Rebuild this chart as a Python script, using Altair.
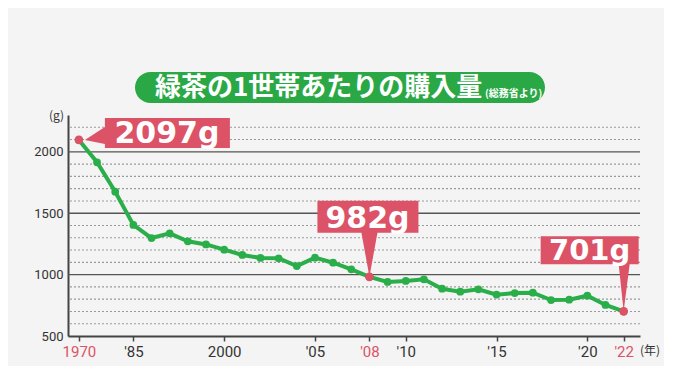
import altair as alt
import pandas as pd

# ---- data ----
years = [1970, 1975, 1980, 1985, 1990, 1995, 1998, 1999,
         2000, 2001, 2002, 2003, 2004, 2005, 2006, 2007, 2008, 2009,
         2010, 2011, 2012, 2013, 2014, 2015, 2016, 2017, 2018, 2019,
         2020, 2021, 2022]
grams = [2097, 1915, 1675, 1405, 1298, 1336, 1271, 1246,
         1203, 1160, 1136, 1133, 1070, 1138, 1097, 1043, 982, 940,
         948, 962, 885, 861, 880, 837, 850, 853, 793, 796,
         828, 753, 701]
tick_years = [1970, 1985, 2000, 2005, 2008, 2010, 2015, 2020, 2022]
full_label_years = [1970, 2000]
highlight_years = [1970, 2008, 2022]
callout_texts = ["2097g", "982g", "701g"]
y_label_values = [500, 1000, 1500, 2000]
grid_major = [1000, 1500, 2000]
grid_minor = [600, 700, 800, 900, 1100, 1200, 1300, 1400,
              1600, 1700, 1800, 1900, 2100, 2200]
title_main = "緑茶の1世帯あたりの購入量"
title_sub = "(総務省より)"
unit_y = "(g)"
unit_x = "(年)"

# ---- styles ----
GREEN = "#2aae4a"
RED = "#dc5266"
INK = "#333333"
W, H = 572, 221

df = pd.DataFrame({"year": years, "grams": grams})
df["i"] = range(len(df))

tick_idx = [years.index(y) for y in tick_years]
hl_idx = [years.index(y) for y in highlight_years]

def lab(y):
    return str(y) if y in full_label_years else "'" + str(y)[2:]

label_expr = "''"
for ix, yr in reversed(list(zip(tick_idx, tick_years))):
    label_expr = f'datum.value == {ix} ? "{lab(yr)}" : ({label_expr})'

xscale = alt.Scale(domain=[-0.6, 30.9], nice=False, zero=False)
yscale = alt.Scale(domain=[500, 2300], nice=False, zero=False)

x_axis = alt.Axis(
    values=tick_idx, labelExpr=label_expr, title=None, grid=False,
    labelColor=alt.condition(
        "indexof(" + str(hl_idx) + ", datum.value) >= 0",
        alt.value(RED), alt.value(INK)),
)
y_axis = alt.Axis(values=y_label_values, title=None, grid=False, ticks=False, format="d")

base = alt.Chart(df)

minor = alt.Chart(pd.DataFrame({"v": grid_minor})).mark_rule(
    color="#9a9a9a", strokeWidth=1.1, strokeDash=[2, 2]
).encode(y=alt.Y("v:Q", scale=yscale, axis=y_axis), x=alt.value(2), x2=alt.value(W))

major = alt.Chart(pd.DataFrame({"v": grid_major})).mark_rule(
    color="#555555", strokeWidth=1.4
).encode(y=alt.Y("v:Q", scale=yscale, axis=y_axis), x=alt.value(0), x2=alt.value(W))

line = base.mark_line(color=GREEN, strokeWidth=4).encode(
    x=alt.X("i:Q", scale=xscale, axis=x_axis),
    y=alt.Y("grams:Q", scale=yscale, axis=y_axis))

pts = base.mark_circle(color=GREEN, size=60, opacity=1).encode(x="i:Q", y="grams:Q")

shapes = [
    "M6,0 L26,-13 L26,-22 L151,-22 L151,8 L26,8 L26,4 Z",
    "M0,0 L-8,-44 L-52,-44 L-52,-76 L49,-76 L49,-44 L8,-44 Z",
    "M0,0 L-5,-47 L-83,-47 L-83,-75 L15,-75 L15,-47 L6,-47 Z",
]
text_off = [(88, 3), (-2, -49), (-34, -51)]
text_size = [30, 30, 29]

layers = [minor, major, line, pts]
for yr, shp, txt, (dx, dy), fs in zip(highlight_years, shapes, callout_texts, text_off, text_size):
    sub = base.transform_filter(alt.datum.year == yr)
    layers.append(sub.mark_point(shape=shp, size=4, filled=True, fill=RED,
                                 opacity=1, strokeWidth=0).encode(x="i:Q", y="grams:Q"))
    layers.append(sub.mark_text(text=txt, dx=dx, dy=dy, align="center",
                                baseline="alphabetic", font="DejaVu Sans",
                                fontWeight="bold", fontSize=fs, color="white"
                                ).encode(x="i:Q", y="grams:Q"))

red_pts = base.transform_filter(
    alt.FieldOneOfPredicate(field="year", oneOf=highlight_years)
).mark_circle(color=RED, size=75, opacity=1).encode(x="i:Q", y="grams:Q")
layers.append(red_pts)

tdf = pd.DataFrame({"t": [title_main], "s": [title_sub], "gy": [unit_y], "gx": [unit_x]})
tb = alt.Chart(tdf)
pill = tb.mark_rect(color="#2aa845", cornerRadius=15.5).encode(
    x=alt.value(67), x2=alt.value(477), y=alt.value(-43), y2=alt.value(-12))
t1 = tb.mark_text(align="left", baseline="middle", font="Noto Sans CJK JP",
                  fontWeight="bold", fontSize=26, color="white").encode(
    x=alt.value(87), y=alt.value(-27), text="t:N")
t2 = tb.mark_text(align="left", baseline="middle", font="Noto Sans CJK JP",
                  fontWeight="bold", fontSize=10, color="white").encode(
    x=alt.value(417), y=alt.value(-21), text="s:N")
gy = tb.mark_text(align="right", baseline="middle", font="Noto Sans CJK JP",
                  fontSize=12, color=INK).encode(
    x=alt.value(-4), y=alt.value(1), text="gy:N")
gx = tb.mark_text(align="left", baseline="middle", font="Noto Sans CJK JP",
                  fontSize=12, color=INK).encode(
    x=alt.value(572), y=alt.value(236), text="gx:N")
layers += [pill, t1, t2, gy, gx]

chart = alt.layer(*layers).properties(
    width=W, height=H,
    padding={"left": 60, "top": 107, "right": 24, "bottom": 30},
    autosize=alt.AutoSizeParams(type="none"),
    background="#f4f4f4",
).configure_view(stroke=None).configure_axis(
    domain=True, domainColor="#444444", domainWidth=2,
    labelFont="Roboto", labelColor=INK,
).configure_axisX(
    tickColor="#444444", tickWidth=1.5, tickSize=5, labelFontSize=15, labelPadding=3,
).configure_axisY(
    labelFontSize=13, labelPadding=5,
)

chart.save("out.html", embed_options={"renderer": "svg", "actions": False})
